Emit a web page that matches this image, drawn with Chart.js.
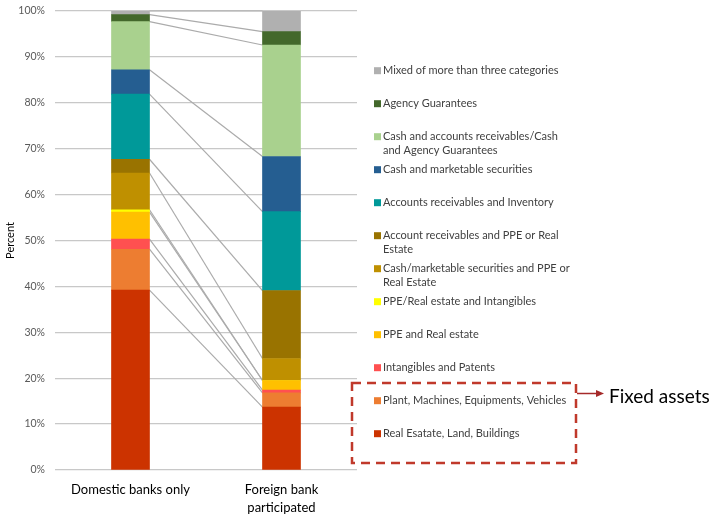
<!DOCTYPE html>
<html>
<head>
<meta charset="utf-8">
<script src="https://cdn.jsdelivr.net/npm/chart.js@4.4.1/dist/chart.umd.min.js"></script>
<style>
  html, body { margin: 0; padding: 0; background: #fff; }
  #wrap { position: relative; width: 717px; height: 517px; }
</style>
</head>
<body>
<div id="wrap"><canvas id="grafico"></canvas></div>
<script>
// categories and series, bottom of the stack first
const categories = ["Domestic banks only", ["Foreign bank", "participated"]];
const seriesNames = [
    ["Real Esatate, Land, Buildings"],
    ["Plant, Machines, Equipments, Vehicles"],
    ["Intangibles and Patents"],
    ["PPE and Real estate"],
    ["PPE/Real estate and Intangibles"],
    ["Cash/marketable securities and PPE or", "Real Estate"],
    ["Account receivables and PPE or Real", "Estate"],
    ["Accounts receivables and Inventory"],
    ["Cash and marketable securities"],
    ["Cash and accounts receivables/Cash", "and Agency Guarantees"],
    ["Agency Guarantees"],
    ["Mixed of more than three categories"]
];
const colors = ["#cc3300", "#ed7d31", "#ff5050", "#ffc000", "#ffff00", "#bf9000",
    "#997300", "#009999", "#255e91", "#a9d18e", "#43682b", "#b0b0b0"];
const domestic = [39.2, 8.9, 2.2, 5.9, 0.5, 8.0, 3.0, 14.2, 5.3, 10.5, 1.5, 0.8];
const foreign = [13.7, 3.1, 0.6, 2.1, 0.0, 4.8, 14.8, 17.2, 12.0, 24.3, 2.9, 4.5];
const yTicks = [0, 10, 20, 30, 40, 50, 60, 70, 80, 90, 100];

const FONT = "Lato, 'Liberation Sans', sans-serif";

// grey lines joining the top of each segment across the two bars
const seriesLines = {
    id: "seriesLines",
    beforeDatasetsDraw(chart) {
        const ctx = chart.ctx;
        ctx.save();
        ctx.strokeStyle = "#ababab";
        ctx.lineWidth = 1.2;
        chart.data.datasets.forEach((ds, i) => {
            const meta = chart.getDatasetMeta(i);
            const a = meta.data[0], b = meta.data[1];
            ctx.beginPath();
            ctx.moveTo(a.x + a.width / 2, a.y);
            ctx.lineTo(b.x - b.width / 2, b.y);
            ctx.stroke();
        });
        ctx.restore();
    }
};

// legend on the right, top entry = top of stack
const sideLegend = {
    id: "sideLegend",
    afterDraw(chart) {
        const ctx = chart.ctx;
        ctx.save();
        ctx.font = "11px " + FONT;
        ctx.textBaseline = "middle";
        const n = seriesNames.length;
        for (let k = 0; k < n; k++) {
            const i = n - 1 - k;
            const y = 70.7 + 33 * k;
            ctx.fillStyle = colors[i];
            ctx.fillRect(374, y - 3.5, 7, 7);
            ctx.fillStyle = "#404040";
            seriesNames[i].forEach((line, j) => ctx.fillText(line, 383, y + j * 14));
        }

        // dashed box around the fixed assets entries
        ctx.strokeStyle = "#c0392b";
        ctx.lineWidth = 2.5;
        ctx.setLineDash([9, 6]);
        ctx.strokeRect(352, 383, 224, 80);
        ctx.setLineDash([]);

        // arrow + note
        ctx.strokeStyle = "#a52a2a";
        ctx.fillStyle = "#a52a2a";
        ctx.lineWidth = 1.5;
        ctx.beginPath();
        ctx.moveTo(577, 393.5);
        ctx.lineTo(598, 393.5);
        ctx.stroke();
        ctx.beginPath();
        ctx.moveTo(604, 393.5);
        ctx.lineTo(596, 390);
        ctx.lineTo(596, 397);
        ctx.closePath();
        ctx.fill();

        ctx.fillStyle = "#000";
        ctx.font = "19px " + FONT;
        ctx.fillText("Fixed assets", 609, 397);
        ctx.restore();
    }
};

const ctx = document.getElementById("grafico").getContext("2d");
const grafico = new Chart(ctx, {
    type: "bar",
    data: {
        labels: categories,
        datasets: seriesNames.map((name, i) => ({
            label: name.join(" "),
            data: [domestic[i], foreign[i]],
            backgroundColor: colors[i],
            borderWidth: 0,
            barThickness: 38
        }))
    },
    options: {
        responsive: true,
        maintainAspectRatio: false,
        animation: false,
        layout: { padding: { left: 0, right: 360, top: 11, bottom: 0 } },
        plugins: {
            legend: { display: false },
            tooltip: { enabled: false }
        },
        scales: {
            x: {
                stacked: true,
                grid: { display: false, drawTicks: false },
                border: { display: false },
                ticks: {
                    color: "#000",
                    padding: 11,
                    font: { family: FONT, size: 13, lineHeight: 1.35 }
                },
                afterFit(scale) { scale.height = 47; }
            },
            y: {
                stacked: true,
                min: 0,
                max: 100,
                grid: { color: "#c8c8c8", lineWidth: 1.3, drawTicks: false },
                border: { display: false },
                afterBuildTicks(scale) { scale.ticks = yTicks.map(v => ({ value: v })); },
                ticks: {
                    color: "#595959",
                    padding: 10,
                    font: { family: FONT, size: 10.5 },
                    callback: v => v + "%"
                },
                title: {
                    display: true,
                    text: "Percent",
                    color: "#000",
                    padding: { top: 4, bottom: 0 },
                    font: { family: FONT, size: 11 }
                },
                afterFit(scale) {
                    scale.width = 55;
                    scale.paddingTop = 0;
                    scale.paddingBottom = 0;
                }
            }
        }
    },
    plugins: [seriesLines, sideLegend]
});
</script>
</body>
</html>
